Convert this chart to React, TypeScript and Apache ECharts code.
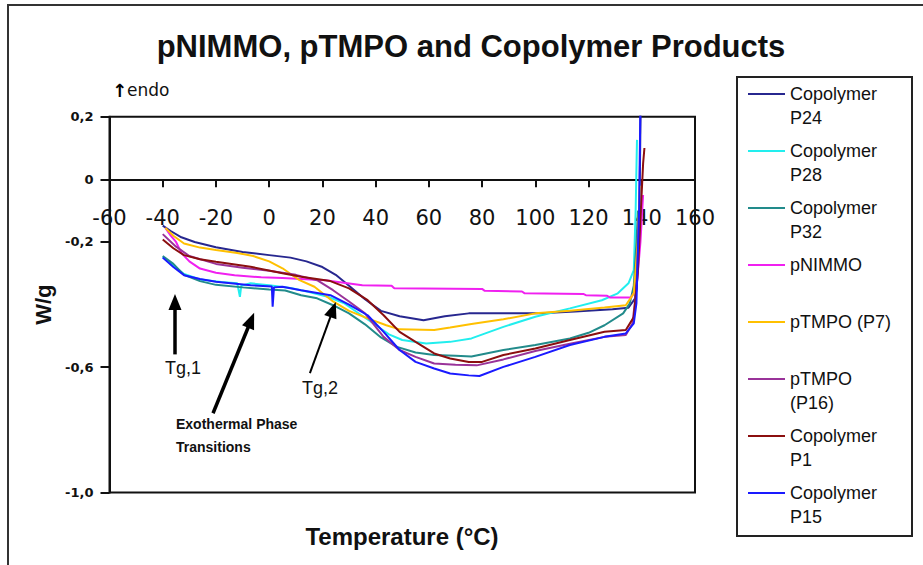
import React, { useEffect, useRef } from 'react';
import * as echarts from 'echarts';

// ---------- data ----------
const seriesNames = [
  'Copolymer P24',
  'Copolymer P28',
  'Copolymer P32',
  'pNIMMO',
  'pTMPO (P7)',
  'pTMPO (P16)',
  'Copolymer P1',
  'Copolymer P15',
];

const legendLabels = [
  '\nCopolymer\nP24',
  '\nCopolymer\nP28',
  '\nCopolymer\nP32',
  '\npNIMMO\n ',
  '\npTMPO (P7)\n ',
  '\npTMPO\n(P16)',
  '\nCopolymer\nP1',
  '\nCopolymer\nP15',
];

const seriesColors = ['#27278f', '#22eeee', '#228b8b', '#f020f0', '#ffc000', '#993399', '#8b0f0f', '#1a1aff'];

const p24 = [
  [-40, -0.148], [-37, -0.165], [-33, -0.185], [-28, -0.2], [-20, -0.217], [-10, -0.232], [0, -0.242],
  [8, -0.25], [14, -0.262], [20, -0.28], [25, -0.305], [30, -0.34], [36, -0.383], [42, -0.42], [49, -0.437],
  [58, -0.45], [66, -0.437], [75, -0.428], [90, -0.428], [102, -0.428], [115, -0.422], [129, -0.415],
  [135, -0.41], [137.5, -0.38], [139, -0.2], [139.6, 0.25],
];
const p28 = [
  [-40, -0.248], [-36, -0.275], [-32, -0.302], [-26, -0.32], [-18, -0.328], [-12, -0.332], [-11, -0.375],
  [-10.5, -0.34], [-7, -0.332], [0, -0.338], [8, -0.347], [15, -0.36], [22, -0.375], [28, -0.395], [34, -0.43],
  [40, -0.465], [45, -0.495], [50, -0.513], [59, -0.524], [68, -0.519], [76, -0.508], [88, -0.471],
  [100, -0.439], [113, -0.412], [125, -0.386], [131, -0.364], [135, -0.332], [137, -0.29], [137.7, -0.1], [138.2, 0.126],
];
const p32 = [
  [-40, -0.245], [-36, -0.27], [-32, -0.305], [-26, -0.325], [-20, -0.337], [-10, -0.345], [0, -0.352],
  [6, -0.355], [12, -0.37], [18, -0.38], [24, -0.402], [30, -0.428], [36, -0.463], [42, -0.505], [48, -0.535],
  [55, -0.553], [62, -0.561], [70, -0.563], [76, -0.566], [88, -0.545], [100, -0.529], [113, -0.508],
  [120, -0.49], [126, -0.466], [133, -0.428], [135.5, -0.396], [137, -0.34], [138, -0.2], [138.6, -0.1],
];
const pNimmo = [
  [-39, -0.155], [-37, -0.18], [-35, -0.2], [-33, -0.235], [-30, -0.262], [-26, -0.285], [-20, -0.298],
  [-13, -0.306], [-3, -0.313], [5, -0.315], [12, -0.318], [21, -0.322], [28, -0.33], [35, -0.338],
  [46, -0.34], [47, -0.348], [80, -0.35], [81, -0.356], [95, -0.358], [96, -0.364], [118, -0.366],
  [119, -0.37], [127, -0.372], [128, -0.377], [136, -0.377], [138, -0.35], [139.5, -0.2], [140.5, -0.05],
];
const pTmpoP7 = [
  [-39, -0.155], [-36, -0.18], [-32, -0.205], [-26, -0.218], [-20, -0.226], [-12, -0.235], [-6, -0.245],
  [0, -0.262], [5, -0.284], [11, -0.32], [17, -0.343], [24, -0.39], [30, -0.42], [37, -0.444], [44, -0.466],
  [49, -0.479], [62, -0.481], [68, -0.473], [76, -0.462], [88, -0.447], [100, -0.428], [113, -0.42],
  [126, -0.409], [134, -0.402], [137, -0.364], [138.5, -0.2], [139.3, -0.02],
];
const pTmpoP16 = [
  [-40, -0.175], [-35, -0.215], [-30, -0.245], [-20, -0.27], [-10, -0.282], [0, -0.292], [10, -0.305],
  [18, -0.322], [24, -0.354], [30, -0.39], [36, -0.428], [43, -0.503], [49, -0.545], [55, -0.567],
  [62, -0.588], [70, -0.592], [78, -0.594], [88, -0.575], [100, -0.548], [113, -0.525], [126, -0.503],
  [134, -0.497], [136.5, -0.46], [138, -0.35], [139, -0.1],
];
const p1 = [
  [-40, -0.192], [-36, -0.22], [-32, -0.242], [-26, -0.255], [-20, -0.263], [-7, -0.279], [5, -0.3],
  [12, -0.311], [23, -0.325], [30, -0.348], [37, -0.386], [43, -0.434], [49, -0.487], [55, -0.519],
  [62, -0.556], [68, -0.572], [75, -0.583], [80, -0.583], [88, -0.561], [100, -0.54], [113, -0.513],
  [126, -0.487], [134, -0.481], [137, -0.44], [138.5, -0.3], [140.5, 0.05], [141, 0.1],
];
const p15 = [
  [-40, -0.25], [-36, -0.28], [-32, -0.306], [-26, -0.318], [-20, -0.327], [-7, -0.338], [1, -0.342],
  [1.3, -0.407], [1.8, -0.345], [5, -0.343], [12, -0.354], [23, -0.37], [30, -0.4], [37, -0.434],
  [43, -0.487], [49, -0.545], [55, -0.583], [62, -0.604], [68, -0.62], [75, -0.626], [79, -0.628],
  [88, -0.599], [100, -0.567], [113, -0.529], [126, -0.503], [134, -0.492], [137, -0.46], [138, -0.395],
  [139, -0.1], [139.5, 0.25],
];
const seriesData = [p24, p28, p32, pNimmo, pTmpoP7, pTmpoP16, p1, p15];

const yTickValues = [-1.0, -0.6, -0.2, 0, 0.2];

// annotation arrows: [from, to] in data coordinates
const arrowTg1 = [[-35.4, -0.559], [-35.4, -0.392]];
const arrowExo = [[-21.1, -0.747], [-6.8, -0.45]];
const arrowTg2 = [[15.3, -0.619], [24.0, -0.416]];

export default function App() {
  const ref = useRef<HTMLDivElement>(null);

  useEffect(() => {
    if (!ref.current) return;
    const chart = echarts.init(ref.current, null, { renderer: 'svg' });
    const legendMap: Record<string, string> = {};
    seriesNames.forEach((n, i) => (legendMap[n] = legendLabels[i]));

    const gridTop = 116.7;
    const gridBottom = 72.5;
    const plotH = 565 - gridTop - gridBottom;
    const yMin = -1.0;
    const yMax = 0.2;
    // move the x axis up from the plot's bottom edge to the y = 0 line
    const zeroOffset = -plotH * (0 - yMin) / (yMax - yMin);

    const lineSeries = seriesNames.map((name, i) => ({
      name,
      type: 'line',
      data: seriesData[i],
      symbol: 'none',
      showSymbol: false,
      clip: true,
      color: seriesColors[i],
      lineStyle: { color: seriesColors[i], width: 2 },
      emphasis: { disabled: true },
    }));

    const arrowLine = (a: number[][], w: number) => [
      { coord: a[0], symbol: 'none', lineStyle: { width: w, color: '#000' } },
      { coord: a[1], symbol: 'triangle' },
    ];

    chart.setOption({
      animation: false,
      backgroundColor: '#fff',
      title: {
        text: 'pNIMMO, pTMPO and Copolymer Products',
        left: 471,
        top: 31,
        textAlign: 'center',
        textVerticalAlign: 'top',
        padding: 0,
        textStyle: { fontSize: 31, fontWeight: 'bold', fontFamily: 'Liberation Sans, Arial, sans-serif', color: '#111' },
      },
      legend: {
        orient: 'vertical',
        left: 748,
        top: 58,
        padding: 0,
        itemGap: -15,
        itemWidth: 37,
        itemHeight: 2,
        icon: 'rect',
        selectedMode: false,
        data: seriesNames,
        formatter: (n: string) => legendMap[n],
        textStyle: { fontSize: 18, lineHeight: 24, fontFamily: 'Liberation Sans, Arial, sans-serif', color: '#111' },
      },
      grid: {
        left: 109.5,
        right: 228,
        top: gridTop,
        bottom: gridBottom,
        containLabel: false,
        outerBoundsMode: 'none',
        show: true,
        borderColor: '#111',
        borderWidth: 2,
        backgroundColor: 'transparent',
      },
      xAxis: {
        type: 'value',
        min: -60,
        max: 160,
        interval: 20,
        position: 'bottom',
        offset: zeroOffset,
        axisLine: { onZero: false, lineStyle: { color: '#111', width: 2 } },
        axisTick: { show: true, length: 8, lineStyle: { color: '#111', width: 2 } },
        axisLabel: {
          margin: 28,
          fontSize: 21,
          fontFamily: 'DejaVu Sans, sans-serif',
          color: '#111',
          showMinLabel: true,
          showMaxLabel: true,
        },
        splitLine: { show: false },
      },
      yAxis: {
        type: 'value',
        min: yMin,
        max: yMax,
        interval: 0.2,
        name: 'W/g',
        nameLocation: 'middle',
        nameRotate: 90,
        nameGap: 40,
        nameTextStyle: { fontSize: 22, fontWeight: 'bold', fontFamily: 'Liberation Sans, Arial, sans-serif', color: '#111' },
        axisLine: { show: true, onZero: false, lineStyle: { color: '#111', width: 2 } },
        axisTick: { show: true, length: 9, customValues: yTickValues, lineStyle: { color: '#111', width: 2 } },
        axisLabel: {
          customValues: yTickValues,
          margin: 16,
          fontSize: 13,
          fontWeight: 'bold',
          fontFamily: 'DejaVu Sans, sans-serif',
          color: '#111',
          formatter: (v: number) => (Math.abs(v) < 1e-9 ? '0' : v.toFixed(1).replace('.', ',')),
        },
        splitLine: { show: false },
      },
      graphic: [
        { type: 'rect', z: -1, shape: { x: 8, y: 5, width: 1200, height: 1200 }, style: { fill: 'none', stroke: '#333', lineWidth: 2 } },
        { type: 'rect', z: -1, shape: { x: 737, y: 77, width: 175, height: 459 }, style: { fill: 'none', stroke: '#222', lineWidth: 2 } },
        {
          type: 'text', x: 112, y: 90,
          style: {
            text: '{a|↑}{b|endo}',
            verticalAlign: 'middle',
            rich: {
              a: { fontSize: 18, fontWeight: 'bold', fontFamily: 'DejaVu Sans, sans-serif', fill: '#000' },
              b: { fontSize: 17, fontFamily: 'DejaVu Sans, sans-serif', fill: '#111' },
            },
          },
        },
        { type: 'text', x: 402, y: 536, style: { text: 'Temperature (°C)', align: 'center', verticalAlign: 'middle', fontSize: 24, fontWeight: 'bold', fontFamily: 'Liberation Sans, Arial, sans-serif', fill: '#111' } },
        { type: 'text', x: 183, y: 368, style: { text: 'Tg,1', align: 'center', verticalAlign: 'middle', fontSize: 18, fontFamily: 'Liberation Sans, Arial, sans-serif', fill: '#111' } },
        { type: 'text', x: 320, y: 388, style: { text: 'Tg,2', align: 'center', verticalAlign: 'middle', fontSize: 18, fontFamily: 'Liberation Sans, Arial, sans-serif', fill: '#111' } },
        { type: 'text', x: 176, y: 424, style: { text: 'Exothermal Phase', verticalAlign: 'middle', fontSize: 14, fontWeight: 'bold', fontFamily: 'Liberation Sans, Arial, sans-serif', fill: '#111' } },
        { type: 'text', x: 176, y: 447, style: { text: 'Transitions', verticalAlign: 'middle', fontSize: 14, fontWeight: 'bold', fontFamily: 'Liberation Sans, Arial, sans-serif', fill: '#111' } },
      ],
      series: [
        ...lineSeries,
        {
          name: 'annotations',
          type: 'line',
          data: [],
          symbol: 'none',
          silent: true,
          markLine: {
            silent: true,
            symbol: ['none', 'triangle'],
            symbolSize: [13, 16],
            label: { show: false },
            emphasis: { disabled: true },
            lineStyle: { color: '#000', width: 3, type: 'solid' },
            itemStyle: { color: '#000' },
            data: [arrowLine(arrowTg1, 3.5), arrowLine(arrowExo, 3.5), arrowLine(arrowTg2, 2)],
          },
        },
      ],
    });
    return () => chart.dispose();
  }, []);

  return <div ref={ref} style={{ position: 'fixed', left: 0, top: 0, width: 923, height: 565 }} />;
}
